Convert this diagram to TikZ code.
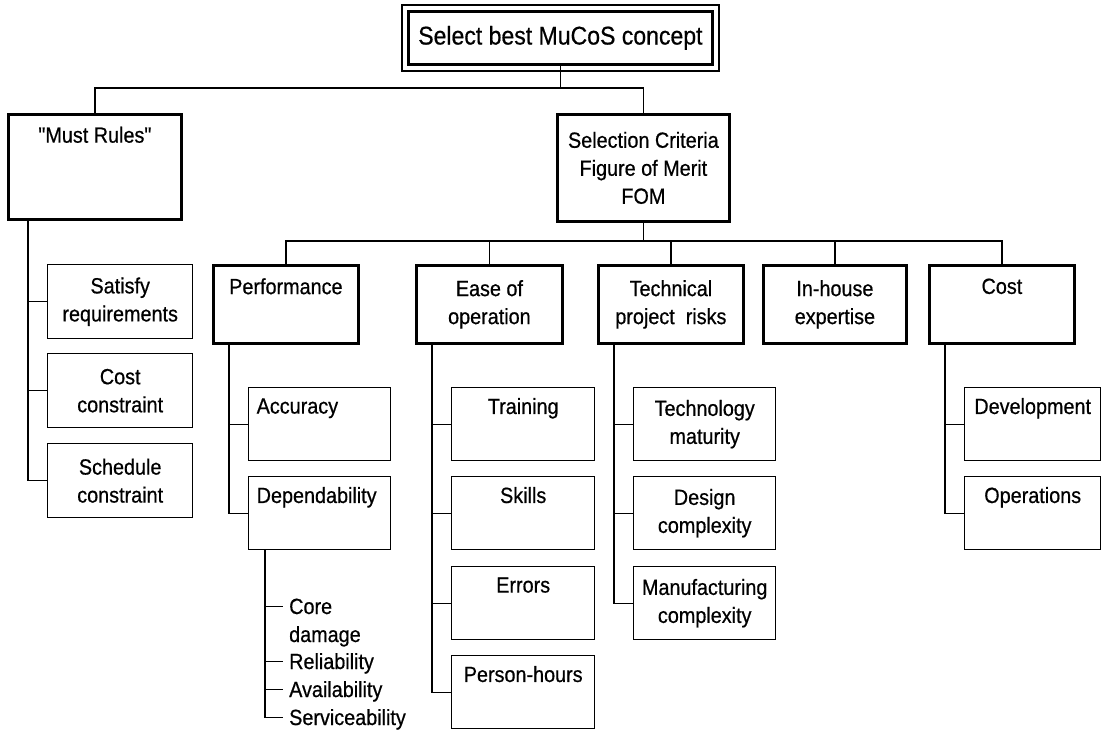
\documentclass[tikz,border=0pt]{standalone}
\usepackage{fontspec}
\setmainfont{Liberation Sans}[FakeStretch=0.9, FakeBold=0.6]
\newfontfamily\rawfont{Liberation Sans}[FakeStretch=0.9, FakeBold=0.6, Ligatures=ResetAll]
\newcommand{\dq}{{\rawfont\char34}}
\begin{document}
\begin{tikzpicture}[x=1pt,y=-1pt,
  boxbase/.style={draw, rectangle, inner sep=0pt, anchor=north west, align=center,
    font=\fontsize{22}{28}\selectfont},
  major/.style={boxbase, line width=2.8pt},
  minor/.style={boxbase, line width=1.4pt},
  dims/.style 2 args={minimum width=#1, minimum height=#2},
  lefttext/.style={align=left, inner xsep=8pt, text width=126pt},
  link/.style={line width=1.4pt},
  item/.style={anchor=base west, inner sep=0pt, text height=15pt, text depth=0pt,
    font=\fontsize{22}{28}\selectfont}]
\useasboundingbox (0,0) rectangle (1102,733);

% goal
\node[major, dims={304pt}{53pt}, font=\fontsize{25.6}{28}\selectfont] (goal) at (407,10) {Select best MuCoS concept};
\draw[line width=1.5pt] ([shift={(-5,-5)}]goal.north west) rectangle ([shift={(5,5)}]goal.south east);

% first level
\node[major, dims={173pt}{105pt}] (must) at (7,113) {\dq Must Rules\dq\\\strut\\\strut};
\node[major, dims={172pt}{107pt}] (crit) at (556,113) {Selection Criteria\\Figure of Merit\\FOM};

% criteria
\node[major, dims={145pt}{78pt}] (perf) at (212,264) {Performance\\\strut};
\node[major, dims={146pt}{78pt}] (ease) at (415,264) {Ease of\\operation};
\node[major, dims={145pt}{78pt}] (tech) at (597,264) {Technical\\project~ risks};
\node[major, dims={143pt}{78pt}] (inh) at (762,264) {In-house\\expertise};
\node[major, dims={145pt}{78pt}] (cost) at (928,264) {Cost\\\strut};

% must rules
\node[minor, dims={145pt}{74pt}] (sat) at (47,264) {Satisfy\\requirements};
\node[minor, dims={145pt}{74pt}] (cc) at (47,353) {Cost\\constraint};
\node[minor, dims={145pt}{74pt}] (sc) at (47,443) {Schedule\\constraint};

% performance
\node[minor, dims={142pt}{73pt}, lefttext] (acc) at (248,387) {Accuracy\\\strut};
\node[minor, dims={142pt}{73pt}, lefttext] (dep) at (248,476) {Dependability\\\strut};

% ease of operation
\node[minor, dims={143pt}{73pt}] (trn) at (451,387) {Training\\\strut};
\node[minor, dims={143pt}{73pt}] (skl) at (451,476) {Skills\\\strut};
\node[minor, dims={143pt}{73pt}] (err) at (451,566) {Errors\\\strut};
\node[minor, dims={143pt}{73pt}] (ph) at (451,655) {Person-hours\\\strut};

% technical risks
\node[minor, dims={142pt}{73pt}] (tmat) at (633,387) {Technology\\maturity};
\node[minor, dims={142pt}{73pt}] (dcx) at (633,476) {Design\\complexity};
\node[minor, dims={142pt}{73pt}] (mcx) at (633,566) {Manufacturing\\complexity};

% cost
\node[minor, dims={136pt}{73pt}] (dev) at (964,387) {Development\\\strut};
\node[minor, dims={136pt}{73pt}] (ops) at (964,476) {Operations\\\strut};

% dependability list
\node[item] (core) at (289,614) {Core};
\node[item] (dmg) at (289,642) {damage};
\node[item] (rel) at (289,669) {Reliability};
\node[item] (avl) at (289,697) {Availability};
\node[item] (svc) at (289,725) {Serviceability};

% tree connectors
\coordinate (bus1) at (goal.south |- 0,88);
\draw[link] (goal.south) -- (bus1);
\draw[link] (must.north) |- (bus1) -| (crit.north);

\coordinate (bus2) at (crit.south |- 0,241);
\draw[link] (crit.south) -- (bus2);
\draw[link] (perf.north) |- (bus2) -| (cost.north);
\foreach \n in {ease,tech,inh} \draw[link] (\n.north) -- (\n.north |- bus2);

\coordinate (mv) at ([xshift=21pt]must.south west);
\draw[link] (mv) |- (sc.west);
\foreach \n in {sat,cc} \draw[link] (\n.west) -- (\n.west -| mv);

\coordinate (pv) at ([xshift=17pt]perf.south west);
\draw[link] (pv) |- (dep.west);
\draw[link] (acc.west) -- (acc.west -| pv);

\coordinate (ev) at ([xshift=17pt]ease.south west);
\draw[link] (ev) |- (ph.west);
\foreach \n in {trn,skl,err} \draw[link] (\n.west) -- (\n.west -| ev);

\coordinate (tv) at ([xshift=17pt]tech.south west);
\draw[link] (tv) |- (mcx.west);
\foreach \n in {tmat,dcx} \draw[link] (\n.west) -- (\n.west -| tv);

\coordinate (cv) at ([xshift=17pt]cost.south west);
\draw[link] (cv) |- (ops.west);
\draw[link] (dev.west) -- (dev.west -| cv);

\coordinate (dv) at ([xshift=17pt]dep.south west);
\draw[link] (dv) |- ([xshift=-6pt]svc.west);
\foreach \n in {core,rel,avl} \draw[link] (dv |- \n.west) -- ([xshift=-6pt]\n.west);
\end{tikzpicture}
\end{document}
